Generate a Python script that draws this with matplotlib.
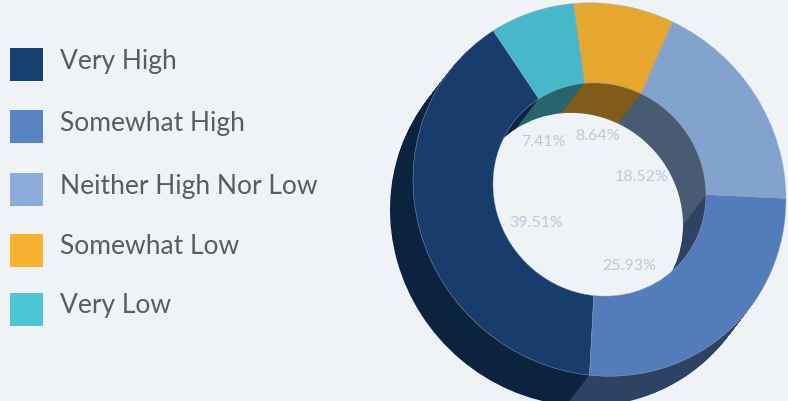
import matplotlib.pyplot as plt
from matplotlib.patches import Rectangle
from matplotlib.transforms import Affine2D

plt.rcParams['font.family'] = ['Lato', 'DejaVu Sans']

# Данные
categories = ['Very High', 'Somewhat High', 'Neither High Nor Low', 'Somewhat Low', 'Very Low']
values = [39.51, 25.93, 18.52, 8.64, 7.41]
pct_labels = ['39.51%', '25.93%', '18.52%', '8.64%', '7.41%']

top_colors = ['#183c6c', '#557cba', '#83a3cf', '#e6a72f', '#47b8c9']
side_colors = ['#0c2340', '#2e4364', '#495a73', '#7f5c1a', '#27646e']
legend_colors = ['#16406f', '#5884c4', '#8cacdb', '#f7b22f', '#4cc5d5']

W, H = 788, 402
BG = '#eff3f6'
cx, cy = 599.5, 190.5
radius, thickness = 186.5, 80
dx, dy = -23, 30  # смещение нижнего кольца
shear_x, shear_y = -0.004, -0.0485  # кольцо слегка скошено
steps = 40
start = 124.5

legend_box_y = [49, 111, 174, 235, 294]
legend_text_y = [61, 124, 187, 247, 306]
label_x = [536, 629, 642, 598, 543]
label_y = [223, 266, 177, 136, 142]

fig = plt.figure(figsize=(W / 100, H / 100), dpi=100, facecolor=BG)
ax = fig.add_axes([0, 0, 1, 1])


def ring(x, y, colors, edge='none', lw=0):
    wedges, _ = ax.pie(values, colors=colors, startangle=start, counterclock=True,
                       radius=radius,
                       wedgeprops={'width': thickness, 'edgecolor': edge, 'linewidth': lw})
    skew = Affine2D.from_values(1, shear_y, shear_x, 1, x, H - y)
    for w in wedges:
        w.set_transform(skew + ax.transData)


ax.set_xlim(0, W)
ax.set_ylim(0, H)

# Боковая стенка: стопка колец от нижнего к верхнему
for i in range(steps, 0, -1):
    ring(cx + dx * i / steps, cy + dy * i / steps, side_colors)
ring(cx, cy, top_colors, edge='#9fb0c4', lw=0.3)

ax.set_xlim(0, W)
ax.set_ylim(0, H)
ax.set_aspect('auto')
ax.axis('off')

for x, y, s in zip(label_x, label_y, pct_labels):
    ax.text(x, H - y, s, color='#bcc8dc', fontsize=11.5, ha='center', va='center')

for c, name, by, ty in zip(legend_colors, categories, legend_box_y, legend_text_y):
    ax.add_patch(Rectangle((10, H - by - 33), 33, 33, facecolor=c, edgecolor='none'))
    ax.text(60, H - ty, name, color='#565c68', fontsize=19, ha='left', va='center')

fig.savefig('out.png', dpi=100, facecolor=BG)
